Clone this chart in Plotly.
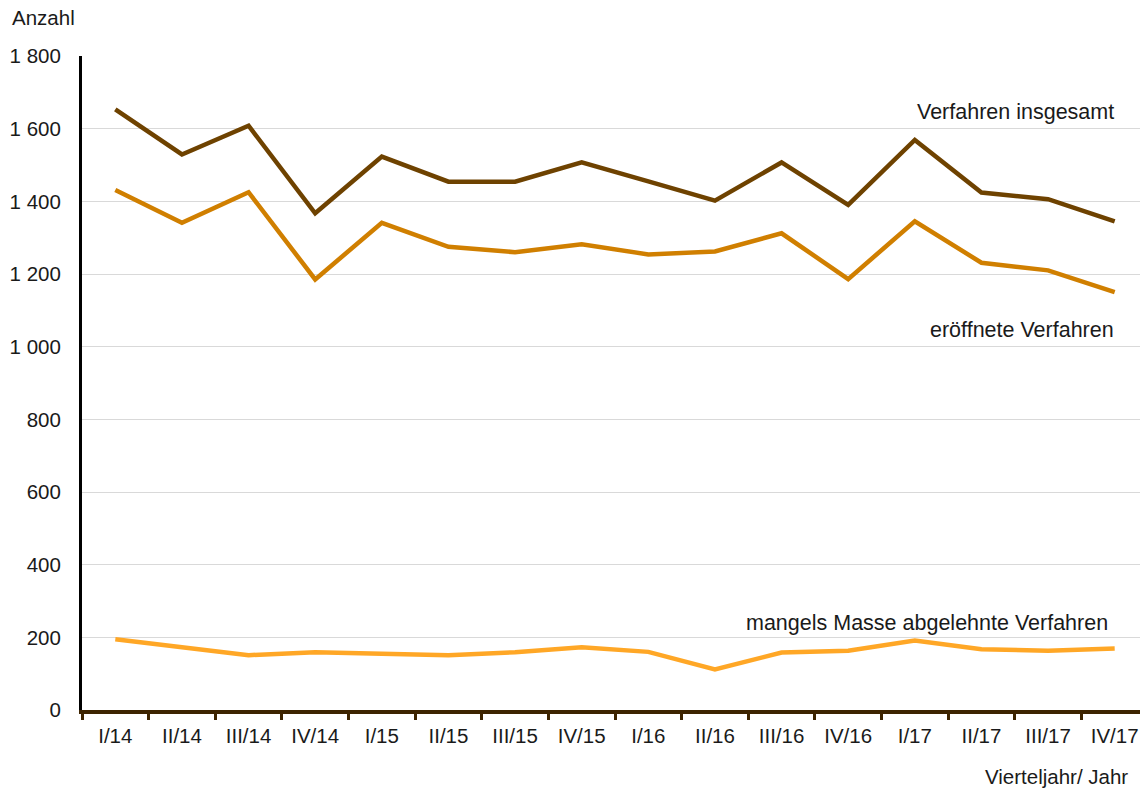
import plotly.graph_objects as go

quarters = ["I/14", "II/14", "III/14", "IV/14",
            "I/15", "II/15", "III/15", "IV/15",
            "I/16", "II/16", "III/16", "IV/16",
            "I/17", "II/17", "III/17", "IV/17"]

verfahren_insgesamt = [1653, 1529, 1608, 1367, 1523, 1454, 1454, 1507,
                       1455, 1402, 1507, 1390, 1569, 1424, 1406, 1345]
eroeffnete = [1431, 1341, 1425, 1185, 1341, 1275, 1260, 1282,
              1254, 1262, 1312, 1186, 1345, 1231, 1210, 1150]
mangels_masse = [195, 173, 151, 159, 155, 151, 159, 173,
                 160, 112, 158, 163, 191, 167, 163, 169]

y_ticks = [0, 200, 400, 600, 800, 1000, 1200, 1400, 1600, 1800]

FONT = "Liberation Sans, Arial, sans-serif"
FS = 20.5
FS_LBL = 21.5

fig = go.Figure()
fig.add_trace(go.Scatter(x=quarters, y=mangels_masse, mode="lines",
                         line=dict(color="#ffa726", width=4.5), name="mangels Masse abgelehnte Verfahren"))
fig.add_trace(go.Scatter(x=quarters, y=eroeffnete, mode="lines",
                         line=dict(color="#d07f00", width=4.5), name="eröffnete Verfahren"))
fig.add_trace(go.Scatter(x=quarters, y=verfahren_insgesamt, mode="lines",
                         line=dict(color="#6e4200", width=4.5), name="Verfahren insgesamt"))

# page has an 8px body margin, so the figure is sized/offset to compensate
fig.update_layout(
    width=1140, height=784,
    margin=dict(l=74, r=0, t=48, b=82),
    paper_bgcolor="white", plot_bgcolor="white",
    showlegend=False,
    separators=", ",
    font=dict(family=FONT, size=FS, color="#1a1a1a"),
)

fig.update_xaxes(
    type="category", range=[-0.5, 15.5], automargin=False,
    showline=True, linecolor="#3d2400", linewidth=4,
    ticks="outside", tickson="boundaries", ticklen=6, tickwidth=3, tickcolor="#3d2400",
    ticklabelstandoff=4,
    showgrid=False, zeroline=False,
    tickfont=dict(family=FONT, size=FS, color="#1a1a1a"),
)
fig.update_yaxes(
    range=[0, 1800], tickvals=y_ticks, tickformat=",d", separatethousands=True,
    automargin=False,
    showline=True, linecolor="#000000", linewidth=3,
    showgrid=True, gridcolor="#d9d9d9", gridwidth=1,
    zeroline=False, ticks="", ticklabelstandoff=14,
    tickfont=dict(family=FONT, size=FS, color="#1a1a1a"),
)

PW, PH, PX0, PY0 = 1066, 654, 82, 710  # plot area in page pixels

annotations = [
    dict(text="Anzahl", xref="paper", yref="paper", x=(10 - PX0) / PW, y=(PY0 - 18) / PH,
         xanchor="left", yanchor="middle", showarrow=False),
    dict(text="Vierteljahr/ Jahr", xref="paper", yref="paper", x=(1130 - PX0) / PW, y=(PY0 - 776) / PH,
         xanchor="right", yanchor="middle", showarrow=False),
    dict(text="Verfahren insgesamt", xref="paper", yref="y", x=(1116 - PX0) / PW, y=1646,
         xanchor="right", yanchor="middle", showarrow=False, font=dict(size=FS_LBL)),
    dict(text="eröffnete Verfahren", xref="paper", yref="y", x=(1116 - PX0) / PW, y=1046,
         xanchor="right", yanchor="middle", showarrow=False, font=dict(size=FS_LBL)),
    dict(text="mangels Masse abgelehnte Verfahren", xref="paper", yref="y", x=(1110 - PX0) / PW, y=240,
         xanchor="right", yanchor="middle", showarrow=False, font=dict(size=FS_LBL)),
]
fig.update_layout(annotations=annotations)

fig.write_html("out.html")
